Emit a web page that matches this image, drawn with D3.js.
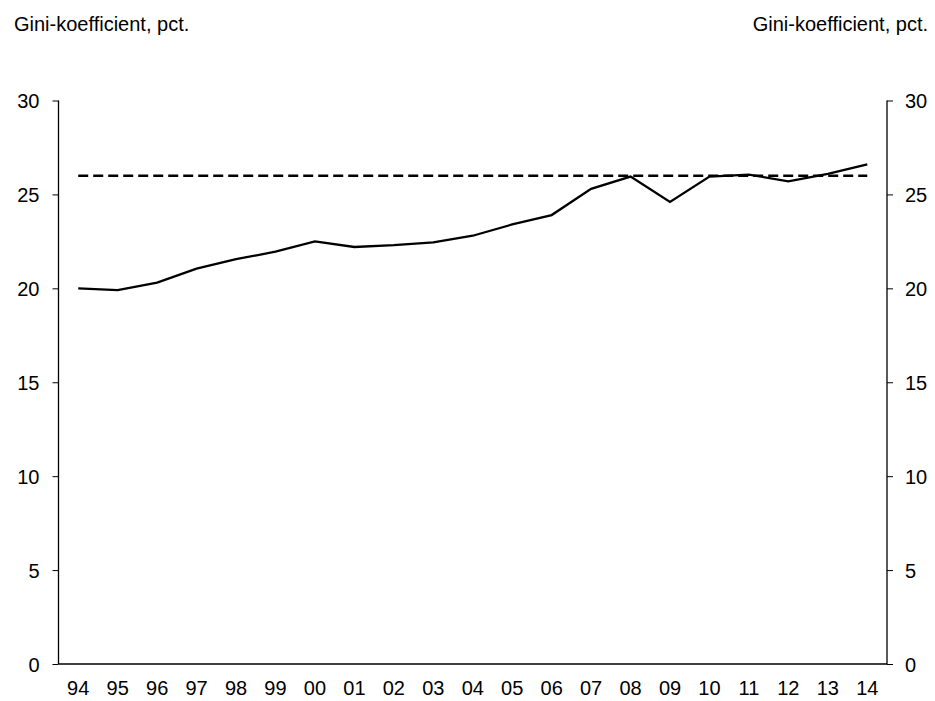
<!DOCTYPE html>
<html>
<head>
<meta charset="utf-8">
<script src="https://cdn.jsdelivr.net/npm/d3@7"></script>
<style>
  html, body { margin: 0; padding: 0; background: #fff; }
  svg { display: block; font-family: "Liberation Sans", Arial, sans-serif; }
</style>
</head>
<body>
<svg id="chart" width="935" height="701"></svg>
<script>
const years = ["94","95","96","97","98","99","00","01","02","03","04","05","06","07","08","09","10","11","12","13","14"];
const gini = [20.0,19.9,20.3,21.05,21.55,21.95,22.5,22.2,22.3,22.45,22.8,23.4,23.9,25.3,25.95,24.6,25.95,26.05,25.7,26.1,26.6];
const refLevel = [26.0,26.0];
const yTicks = [0,5,10,15,20,25,30];
const yTitle = "Gini-koefficient, pct.";

const svg = d3.select("#chart");
const mLeft = 58.5, mRight = 887, mTop = 100.5, mBottom = 664;

const x = d3.scaleBand().domain(years).range([mLeft, mRight]);
const y = d3.scaleLinear().domain([0, 30]).range([mBottom, mTop]);
const cx = d => x(d) + x.bandwidth() / 2;

// axes
const yl = svg.append("g").attr("transform", `translate(${mLeft},0)`)
  .call(d3.axisLeft(y).tickValues(yTicks).tickSize(6).tickPadding(13));
const yr = svg.append("g").attr("transform", `translate(${mRight},0)`)
  .call(d3.axisRight(y).tickValues(yTicks).tickSize(6).tickPadding(12));
const xa = svg.append("g").attr("transform", `translate(0,${mBottom})`)
  .call(d3.axisBottom(x).tickSize(0).tickPadding(17));

[yl, yr, xa].forEach(g => {
  g.selectAll("text").attr("font-size", 20).attr("fill", "#000")
    .attr("font-family", "'Liberation Sans', Arial, sans-serif");
  g.selectAll("path.domain").attr("stroke", "#000").attr("stroke-width", 1.3);
  g.selectAll(".tick line").attr("stroke", "#000").attr("stroke-width", 1);
});
yl.selectAll("text").attr("dy", "0.35em");
yr.selectAll("text").attr("dy", "0.35em");
xa.select("path.domain").attr("d", `M${mLeft},0H${mRight}`);
yl.select("path.domain").attr("d", `M0,${mTop}V${mBottom}`);
yr.select("path.domain").attr("d", `M0,${mTop}V${mBottom}`);

// reference dashed line
svg.append("line")
  .attr("x1", cx(years[0])).attr("x2", cx(years[years.length - 1]))
  .attr("y1", y(refLevel[0])).attr("y2", y(refLevel[1]))
  .attr("stroke", "#000").attr("stroke-width", 2.5)
  .attr("stroke-dasharray", "10,5");

// gini line
svg.append("path")
  .datum(gini)
  .attr("fill", "none").attr("stroke", "#000").attr("stroke-width", 2.3)
  .attr("stroke-linejoin", "miter")
  .attr("d", d3.line().x((d, i) => cx(years[i])).y(d => y(d)));

// titles
svg.append("text").attr("x", 14).attr("y", 31).attr("font-size", 20)
  .attr("fill", "#000").text(yTitle);
svg.append("text").attr("x", 928).attr("y", 31).attr("font-size", 20)
  .attr("text-anchor", "end").attr("fill", "#000").text(yTitle);
</script>
</body>
</html>
